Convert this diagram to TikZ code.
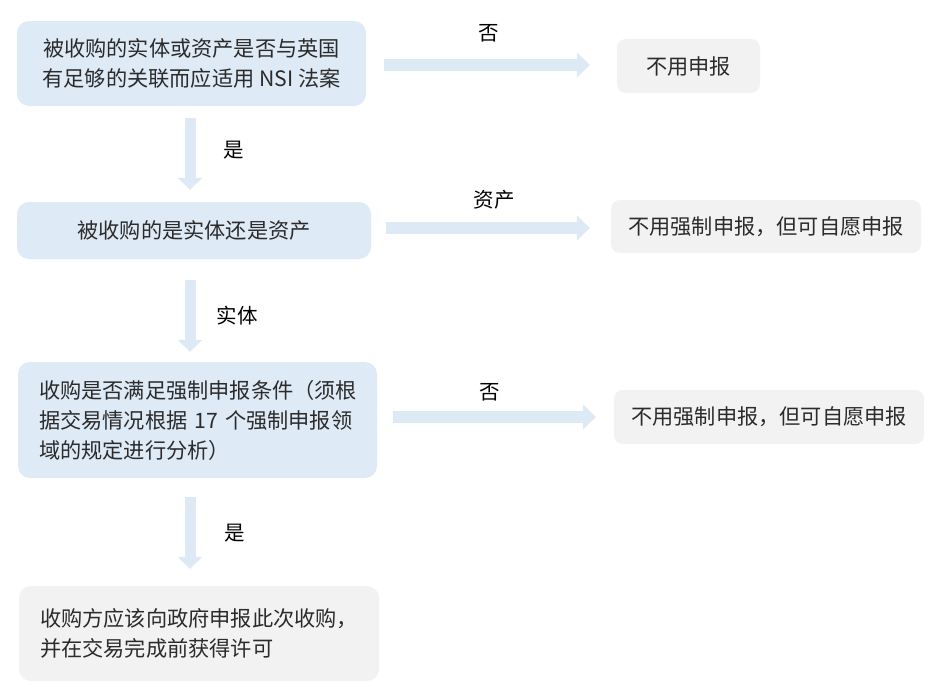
\documentclass[tikz,border=0pt]{standalone}
\usepackage{fontspec}
\setmainfont{Noto Sans CJK SC}
\usetikzlibrary{arrows.meta,calc}
\definecolor{boxblue}{HTML}{DEEAF6}
\definecolor{boxgray}{HTML}{F2F2F2}
\definecolor{arrowblue}{HTML}{DDEAF6}
\definecolor{txt}{HTML}{2B2B2B}
\tikzset{
  bluebox/.style={fill=boxblue, rounded corners=12pt, draw=none, text=txt,
    font=\fontsize{21.2}{30}\selectfont, inner sep=0pt},
  graybox/.style={fill=boxgray, rounded corners=9pt, draw=none, text=txt,
    font=\fontsize{21.2}{30}\selectfont, inner sep=0pt},
  lbl/.style={text=black, font=\fontsize{20.5}{24}\selectfont, inner sep=0pt},
  harrow/.style={draw=arrowblue, line width=12pt, -{Triangle[width=25pt,length=13pt]}},
  varrow/.style={draw=arrowblue, line width=11pt, -{Triangle[width=24pt,length=12pt]}}
}
\begin{document}
\begin{tikzpicture}[x=1pt,y=-1pt]
\path[use as bounding box, fill=white] (0,0) rectangle (937,696);
% left column
\node[bluebox, minimum width=349, minimum height=85, align=center] (b1) at (191.5,63.5)
  {被收购的实体或资产是否与英国\\有足够的关联而应适用 NSI 法案};
\node[bluebox, minimum width=354, minimum height=57, align=center] (b2) at (194,230.5)
  {被收购的是实体还是资产};
\node[bluebox, text width=317, inner xsep=21, minimum height=116, align=left] (b3) at (197.5,420)
  {收购是否满足强制申报条件（须根\\据交易情况根据 17 个强制申报领\\域的规定进行分析）};
\node[graybox, text width=318, inner xsep=21, minimum height=95, align=left, rounded corners=12pt] (b4) at (199,633.5)
  {收购方应该向政府申报此次收购，\\并在交易完成前获得许可};
% right column
\node[graybox, minimum width=143, minimum height=54] (n1) at (688.5,66) {不用申报};
\node[graybox, minimum width=310, minimum height=53] (n2) at (766,226.5) {不用强制申报，但可自愿申报};
\node[graybox, minimum width=310, minimum height=54] (n3) at (769,417) {不用强制申报，但可自愿申报};
% horizontal arrows
\draw[harrow, shorten <=18pt, shorten >=27pt] ($(b1.east)+(0,1.5)$) -- ($(b1.east -| n1.west)+(0,1.5)$);
\draw[harrow, shorten <=15pt, shorten >=21pt] ($(b2.east)+(0,-2.5)$) -- ($(b2.east -| n2.west)+(0,-2.5)$);
\draw[harrow, shorten <=16pt, shorten >=18pt] ($(b3.east)+(0,-3)$) -- ($(b3.east -| n3.west)+(0,-3)$);
% vertical arrows
\coordinate (c1) at (190,0);
\draw[varrow, shorten <=12pt, shorten >=12pt] (b1.south -| c1) -- (b2.north -| c1);
\draw[varrow, shorten <=21pt, shorten >=10pt] (b2.south -| c1) -- (b3.north -| c1);
\draw[varrow, shorten <=19pt, shorten >=17pt] (b3.south -| c1) -- (b4.north -| c1);
% labels
\node[lbl] (l1) at (489,33) {否};
\node[lbl] (l2) at (234,150) {是};
\node[lbl] (l3) at (494,200) {资产};
\node[lbl] (l4) at (237,316) {实体};
\node[lbl] (l5) at (490,392) {否};
\node[lbl] (l6) at (235,533) {是};
\end{tikzpicture}
\end{document}
